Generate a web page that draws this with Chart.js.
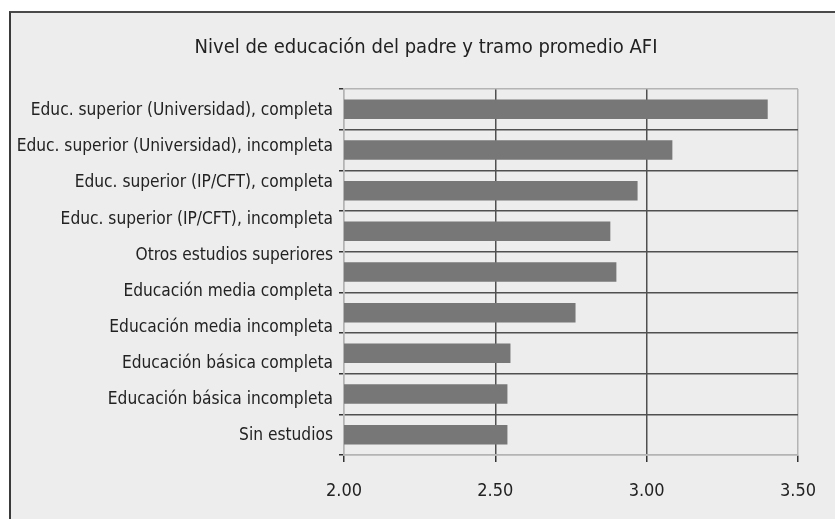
<!DOCTYPE html>
<html><head><meta charset="utf-8">
<script src="https://cdn.jsdelivr.net/npm/chart.js@4.4.1/dist/chart.umd.min.js"></script>
<style>
html,body{margin:0;padding:0;background:#fff;}
#wrap{position:relative;width:835px;height:519px;overflow:hidden;}
#frame{position:absolute;left:9px;top:11px;width:900px;height:600px;border-left:2px solid #3a3a3a;border-top:2px solid #4a4a4a;background:#ededed;}
canvas{position:absolute;left:0;top:0;}
</style></head><body>
<div id="wrap"><div id="frame"></div><canvas id="c" width="835" height="519"></canvas></div>
<script>
const chartTitle = 'Nivel de educación del padre y tramo promedio AFI';
const categories = [
  'Educ. superior (Universidad), completa',
  'Educ. superior (Universidad), incompleta',
  'Educ. superior (IP/CFT), completa',
  'Educ. superior (IP/CFT), incompleta',
  'Otros estudios superiores',
  'Educación media completa',
  'Educación media incompleta',
  'Educación básica completa',
  'Educación básica incompleta',
  'Sin estudios'
];
const values = [3.40, 3.085, 2.97, 2.88, 2.90, 2.765, 2.55, 2.54, 2.54];
const barSlots = ['1', '2', '3', '4', '5', '6', '7', '8', '9'];
const xTicks = [2.0, 2.5, 3.0, 3.5];

const FONT = "'Liberation Sans Narrow', 'DejaVu Sans Condensed', 'Arial Narrow', sans-serif";
const DARK = '#505050', LIGHT = '#b4b4b4';

const titleShift = {
  id: 'titleShift',
  afterLayout(chart) {
    const t = chart.titleBlock;
    if (t) { t.left += 50; }
  }
};

new Chart(document.getElementById('c'), {
  type: 'bar',
  data: {
    labels: barSlots,
    datasets: [{
      data: values,
      backgroundColor: '#777777',
      borderWidth: 0,
      categoryPercentage: 1,
      barPercentage: 0.48,
      xAxisID: 'x',
      yAxisID: 'y'
    }]
  },
  plugins: [titleShift],
  options: {
    indexAxis: 'y',
    responsive: false,
    animation: false,
    devicePixelRatio: 1,
    layout: { padding: { left: 0, right: 33, top: 0, bottom: 0 } },
    plugins: {
      legend: { display: false },
      tooltip: { enabled: false },
      title: {
        display: true,
        text: chartTitle,
        color: '#222',
        font: { family: FONT, size: 20, weight: 'normal', lineHeight: 1.2 },
        padding: { top: 36, bottom: 29 }
      }
    },
    scales: {
      x: {
        type: 'linear',
        position: 'bottom',
        min: 2, max: 3.5,
        bounds: 'data',
        afterBuildTicks: a => { a.ticks = xTicks.map(v => ({ value: v })); },
        afterFit: a => { a.height = 64; },
        ticks: {
          callback: v => Number(v).toFixed(2),
          color: '#222',
          font: { family: FONT, size: 18 },
          padding: 19,
          maxRotation: 0
        },
        grid: {
          color: c => (c.tick && (c.tick.value === xTicks[0] || c.tick.value === xTicks[xTicks.length - 1])) ? LIGHT : DARK,
          lineWidth: 1.5,
          tickColor: '#333',
          tickLength: 7
        },
        border: { color: LIGHT, width: 1.5 }
      },
      y: {
        type: 'category',
        position: 'left',
        weight: 0,
        afterFit: a => { a.width = 5; },
        ticks: { display: false },
        grid: {
          offset: true,
          color: c => (c.index === 0 || c.index === undefined) ? LIGHT : DARK,
          lineWidth: 1.5,
          tickColor: '#333',
          tickLength: 5
        },
        border: { color: LIGHT, width: 1.5 }
      },
      y2: {
        type: 'linear',
        position: 'left',
        weight: 1,
        reverse: true,
        offset: false,
        bounds: 'data',
        min: -0.61, max: 9.55,
        afterBuildTicks: a => { a.ticks = categories.map((_, i) => ({ value: i })); },
        afterFit: a => { a.width = 339; },
        ticks: {
          callback: v => categories[v],
          color: '#222',
          font: { family: FONT, size: 17.2 },
          padding: 6,
          autoSkip: false
        },
        grid: { display: false, drawTicks: false, offset: false },
        border: { display: false }
      }
    }
  }
});
</script>
</body></html>
